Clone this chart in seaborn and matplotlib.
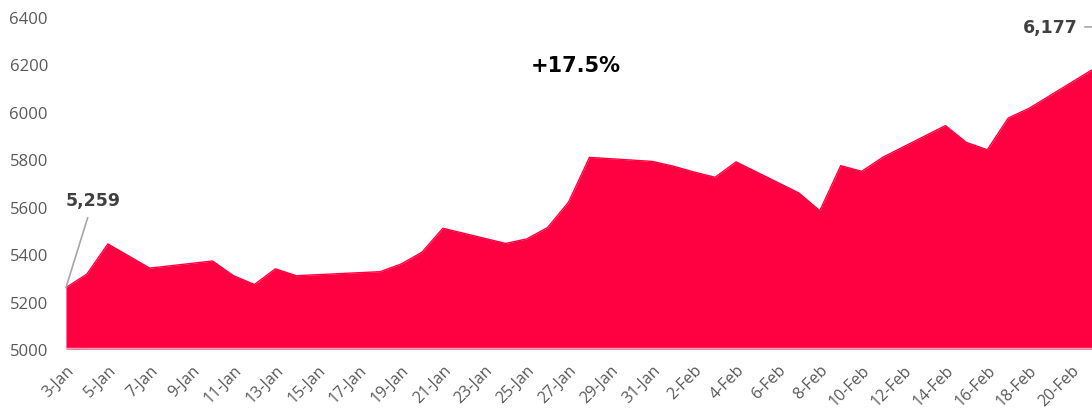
import numpy as np
import pandas as pd
import matplotlib.pyplot as plt
import seaborn as sns

# trading days and index values
dates = ["2022-01-03", "2022-01-04", "2022-01-05", "2022-01-06", "2022-01-07",
         "2022-01-10", "2022-01-11", "2022-01-12", "2022-01-13", "2022-01-14",
         "2022-01-18", "2022-01-19", "2022-01-20", "2022-01-21",
         "2022-01-24", "2022-01-25", "2022-01-26", "2022-01-27", "2022-01-28",
         "2022-01-31", "2022-02-01", "2022-02-02", "2022-02-03", "2022-02-04",
         "2022-02-07", "2022-02-08", "2022-02-09", "2022-02-10", "2022-02-11",
         "2022-02-14", "2022-02-15", "2022-02-16", "2022-02-17", "2022-02-18",
         "2022-02-21"]
values = [5259, 5316, 5443, 5392, 5341,
          5371, 5309, 5272, 5338, 5309,
          5326, 5358, 5408, 5509,
          5445, 5464, 5512, 5619, 5808,
          5791, 5771, 5746, 5724, 5789,
          5658, 5583, 5773, 5749, 5808,
          5942, 5871, 5840, 5974, 6015,
          6177]
growth_label = "+17.5%"

df = pd.DataFrame({"date": pd.to_datetime(dates), "value": values})

sns.set_style("white")
plt.rcParams["font.family"] = ["DejaVu Sans"]

red = "#FF0040"
grey = "#595959"

fig = plt.figure(figsize=(10.92, 4.14), dpi=100)
ax = fig.add_axes([0.0604, 0.1546, 0.9396, 0.802])

ax.fill_between(df["date"], 5000, df["value"], color=red, linewidth=0)
sns.lineplot(data=df, x="date", y="value", color=red, linewidth=1, ax=ax)
ax.axhline(5000, color="#f4a3b6", linewidth=2.5, zorder=3)

ax.set_ylim(5000, 6400)
ax.set_yticks(np.arange(5000, 6401, 200))
ax.set_xlim(df["date"].iloc[0], df["date"].iloc[-1])

ticks = pd.date_range("2022-01-03", "2022-02-20", freq="2D")
ax.set_xticks(ticks)
ax.set_xticklabels([f"{d.day}-{d.strftime('%b')}" for d in ticks],
                   rotation=45, ha="right", rotation_mode="anchor",
                   family=["Open Sans", "DejaVu Sans"])
for lab in ax.get_yticklabels():
    lab.set_family(["Open Sans", "DejaVu Sans"])
ax.tick_params(axis="both", colors=grey, length=0)
ax.tick_params(axis="x", labelsize=11.5, pad=9)
ax.tick_params(axis="y", labelsize=12, pad=13)
ax.set_xlabel("")
ax.set_ylabel("")
sns.despine(ax=ax, left=True, bottom=True)

# annotations
first = df.iloc[0]
last = df.iloc[-1]
ax.annotate(f"{first['value']:,}", xy=(first["date"], first["value"]),
            xytext=(first["date"] + pd.Timedelta(days=1.3), 5590),
            fontsize=12.5, fontweight="bold", color="#404040",
            ha="center", va="bottom",
            arrowprops=dict(arrowstyle="-", color="#a6a6a6", lw=1.2,
                            shrinkA=4, shrinkB=0))
ax.annotate(f"{last['value']:,}", xy=(last["date"], 6358),
            xytext=(last["date"] - pd.Timedelta(days=0.7), 6358),
            fontsize=12.5, fontweight="bold", color="#404040",
            ha="right", va="center", annotation_clip=False,
            arrowprops=dict(arrowstyle="-", color="#a6a6a6", lw=1.2,
                            shrinkA=3, shrinkB=0))
ax.text(0.497, 0.855, growth_label, transform=ax.transAxes,
        fontsize=15, fontweight="bold", color="black", ha="center", va="center")

fig.savefig("out.png", dpi=100)
